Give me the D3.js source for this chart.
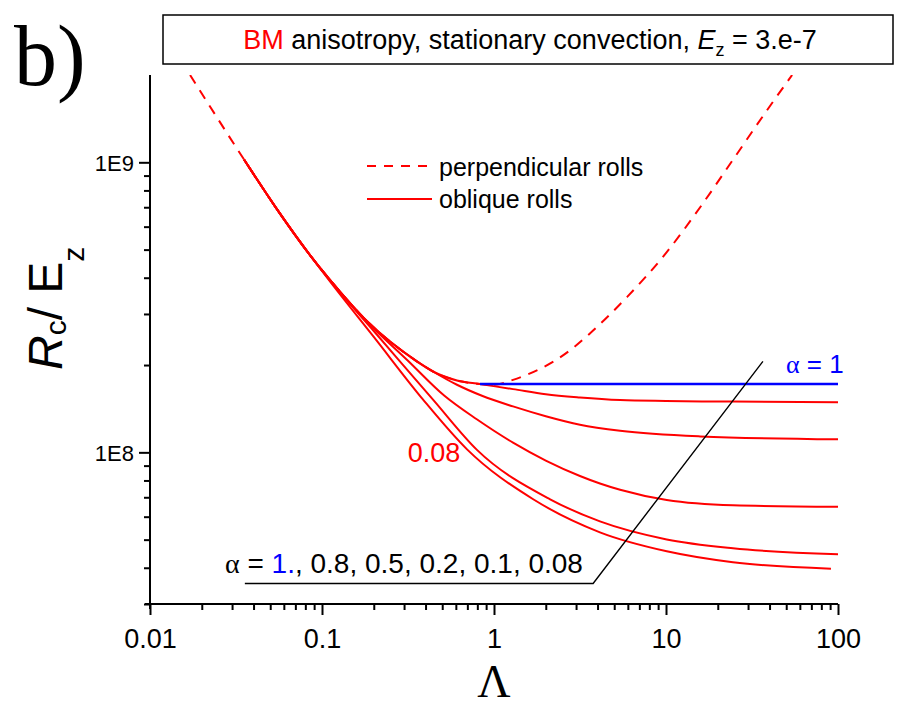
<!DOCTYPE html>
<html>
<head>
<meta charset="utf-8">
<script src="https://cdn.jsdelivr.net/npm/d3@7"></script>
<style>
  body { margin: 0; background: #fff; }
  svg { display: block; font-family: Arial, "Liberation Sans", sans-serif; }
</style>
</head>
<body>
<svg id="chart" width="909" height="706"></svg>
<script>
// Critical Rayleigh number R_c / E_z versus anisotropy parameter Λ

// perpendicular rolls (dashed)
const perpLambda = [0.0171, 0.0352, 0.0533, 0.0851, 0.111, 0.183, 0.356, 0.442, 0.609, 0.829, 1.01, 1.29, 1.85, 2.20, 2.88, 3.61, 5.93, 10.1, 15.8, 24.5, 38.6, 54.1];
const perpValue  = [2.0e9, 1.023e9, 7.05e8, 4.79e8, 3.94e8, 2.83e8, 2.06e8, 1.90e8, 1.77e8, 1.72e8, 1.71e8, 1.778e8, 1.94e8, 2.05e8, 2.29e8, 2.57e8, 3.43e8, 4.90e8, 7.0e8, 1.02e9, 1.51e9, 2.0e9];

// oblique rolls, alpha = 1 (blue)
const alpha1Lambda = [0.829, 100];
const alpha1Value  = [1.72e8, 1.72e8];

// oblique rolls, alpha = 0.8
const alpha08Lambda = [0.0352, 0.0533, 0.0851, 0.111, 0.183, 0.356, 0.442, 0.609, 0.829, 1.29, 2.0, 3.16, 5.41, 10, 24.5, 100];
const alpha08Value  = [1.023e9, 7.05e8, 4.79e8, 3.94e8, 2.83e8, 2.06e8, 1.90e8, 1.77e8, 1.72e8, 1.652e8, 1.585e8, 1.545e8, 1.514e8, 1.503e8, 1.496e8, 1.489e8];

// oblique rolls, alpha = 0.5
const alpha05Lambda = [0.0352, 0.0533, 0.0851, 0.111, 0.183, 0.356, 0.442, 0.609, 0.851, 1.29, 2.0, 3.16, 5.41, 15.8, 100];
const alpha05Value  = [1.023e9, 7.05e8, 4.79e8, 3.94e8, 2.83e8, 2.06e8, 1.90e8, 1.71e8, 1.567e8, 1.44e8, 1.332e8, 1.245e8, 1.186e8, 1.135e8, 1.109e8];

// oblique rolls, alpha = 0.2
const alpha02Lambda = [0.0352, 0.0533, 0.0851, 0.111, 0.183, 0.316, 0.513, 0.794, 1.29, 2.0, 3.16, 4.13, 5.41, 10.1, 24.5, 100];
const alpha02Value  = [1.023e9, 7.05e8, 4.79e8, 3.94e8, 2.82e8, 2.07e8, 1.57e8, 1.30e8, 1.08e8, 9.37e7, 8.29e7, 7.81e7, 7.43e7, 6.85e7, 6.57e7, 6.49e7];

// oblique rolls, alpha = 0.1
const alpha01Lambda = [0.0352, 0.0533, 0.0851, 0.111, 0.2, 0.442, 0.796, 2.12, 4.13, 10.1, 24.5, 100];
const alpha01Value  = [1.023e9, 7.05e8, 4.79e8, 3.92e8, 2.62e8, 1.52e8, 1.02e8, 6.89e7, 5.78e7, 5.01e7, 4.67e7, 4.45e7];

// oblique rolls, alpha = 0.08
const alpha008Lambda = [0.0352, 0.0533, 0.0851, 0.111, 0.2, 0.387, 0.697, 1.69, 4.13, 10.1, 24.5, 91];
const alpha008Value  = [1.023e9, 7.05e8, 4.79e8, 3.89e8, 2.50e8, 1.52e8, 1.024e8, 6.89e7, 5.30e7, 4.56e7, 4.18e7, 3.97e7];

// leader line for the alpha list
const guideLambda = [0.0356, 3.77, 36.6];
const guideValue  = [3.53e7, 3.53e7, 2.06e8];

// axes
const xDomain = [0.01, 100];
const yDomain = [3e7, 2e9];
const xMajorTicks = [0.01, 0.1, 1, 10, 100];
const xTickLabels = ["0.01", "0.1", "1", "10", "100"];
const yMajorTicks = [1e8, 1e9];
const yTickLabels = ["1E8", "1E9"];

const svg = d3.select("#chart");
const plotLeft = 150, plotRight = 838, plotTop = 75, plotBottom = 604;

const x = d3.scaleLog().domain(xDomain).range([plotLeft, plotRight]);
const y = d3.scaleLog().domain(yDomain).range([plotBottom, plotTop]);

const xMinor = [];
for (let d = 0.01; d < 100; d *= 10) for (let k = 2; k <= 9; k++) xMinor.push(+(d * k).toPrecision(3));
const yMinor = [];
[1e7, 1e8].forEach(d => { for (let k = 2; k <= 9; k++) { const v = d * k; if (v >= 3e7 && v < 2e9) yMinor.push(v); } });

svg.append("defs").append("clipPath").attr("id", "plotClip")
  .append("rect").attr("x", plotLeft).attr("y", plotTop)
  .attr("width", plotRight - plotLeft).attr("height", plotBottom - plotTop);

const line = d3.line().x(d => x(d[0])).y(d => y(d[1])).curve(d3.curveMonotoneX);
const pairs = (a, b) => a.map((v, i) => [v, b[i]]);

const plot = svg.append("g").attr("clip-path", "url(#plotClip)");

const oblique = [
  [alpha08Lambda, alpha08Value],
  [alpha05Lambda, alpha05Value],
  [alpha02Lambda, alpha02Value],
  [alpha01Lambda, alpha01Value],
  [alpha008Lambda, alpha008Value]
];
oblique.forEach(([l, v]) => {
  plot.append("path").datum(pairs(l, v)).attr("d", line)
    .attr("fill", "none").attr("stroke", "#ff0000").attr("stroke-width", 2);
});

plot.append("path").datum(pairs(perpLambda, perpValue)).attr("d", line)
  .attr("fill", "none").attr("stroke", "#ff0000").attr("stroke-width", 2)
  .attr("stroke-dasharray", "10,8");

plot.append("path").datum(pairs(alpha1Lambda, alpha1Value)).attr("d", line)
  .attr("fill", "none").attr("stroke", "#0000ff").attr("stroke-width", 2.4);

// leader line
svg.append("path").datum(pairs(guideLambda, guideValue))
  .attr("d", d3.line().x(d => x(d[0])).y(d => y(d[1])))
  .attr("fill", "none").attr("stroke", "#000").attr("stroke-width", 1.4);

// x axis
const xAxisG = svg.append("g").attr("transform", `translate(0,${plotBottom})`);
xAxisG.append("g").call(d3.axisBottom(x).tickValues(xMinor).tickSize(6).tickSizeOuter(0).tickFormat(""));
xAxisG.append("g").call(d3.axisBottom(x).tickValues(xMajorTicks).tickSize(11).tickSizeOuter(0)
  .tickFormat((d, i) => xTickLabels[i]));
xAxisG.selectAll(".domain").remove();
xAxisG.append("line").attr("x1", plotLeft - 5).attr("x2", plotRight).attr("stroke", "#000").attr("stroke-width", 2);
xAxisG.selectAll(".tick line").attr("stroke", "#000").attr("stroke-width", 2);
xAxisG.selectAll(".tick text").attr("font-size", 27).attr("font-family", "Arial, 'Liberation Sans', sans-serif")
  .attr("fill", "#000").attr("dy", null).attr("y", 44);

// y axis
const yAxisG = svg.append("g").attr("transform", `translate(${plotLeft},0)`);
yAxisG.append("g").call(d3.axisLeft(y).tickValues(yMinor).tickSize(6).tickSizeOuter(0).tickFormat(""));
yAxisG.append("g").call(d3.axisLeft(y).tickValues(yMajorTicks).tickSize(11).tickSizeOuter(0)
  .tickFormat((d, i) => yTickLabels[i]));
yAxisG.selectAll(".domain").remove();
yAxisG.append("line").attr("y1", plotTop).attr("y2", plotBottom + 5).attr("stroke", "#000").attr("stroke-width", 2);
yAxisG.selectAll(".tick line").attr("stroke", "#000").attr("stroke-width", 2);
yAxisG.selectAll(".tick text").attr("font-size", 22).attr("font-family", "Arial, 'Liberation Sans', sans-serif")
  .attr("fill", "#000").attr("x", -16).attr("dy", "0.36em");

// axis titles
svg.append("text").attr("x", x(1)).attr("y", 697).attr("text-anchor", "middle")
  .attr("font-family", "'Liberation Serif', 'Times New Roman', serif").attr("font-size", 46)
  .text("Λ");

const yTitle = svg.append("text").attr("transform", "translate(62,370) rotate(-90)")
  .attr("font-size", 48);
yTitle.append("tspan").attr("font-style", "italic").text("R");
yTitle.append("tspan").attr("font-size", 30).attr("dy", 4).text("c");
yTitle.append("tspan").attr("dy", -4).text("/ E");
yTitle.append("tspan").attr("font-size", 30).attr("dy", 22).text("z");

// panel tag
svg.append("text").attr("x", 14).attr("y", 85)
  .attr("font-family", "'Liberation Serif', 'Times New Roman', serif").attr("font-size", 86)
  .text("b)");

// title box
svg.append("rect").attr("x", 163).attr("y", 15).attr("width", 730).attr("height", 49)
  .attr("fill", "#fff").attr("stroke", "#000").attr("stroke-width", 1.5);
const title = svg.append("text").attr("x", 530).attr("y", 49).attr("text-anchor", "middle").attr("font-size", 27);
title.append("tspan").attr("fill", "#ff0000").text("BM");
title.append("tspan").text(" anisotropy, stationary convection, ");
title.append("tspan").attr("font-style", "italic").text("E");
title.append("tspan").attr("font-size", 18).attr("dy", 7).text("z");
title.append("tspan").attr("dy", -7).text(" = 3.e-7");

// legend
const lg = svg.append("g");
lg.append("line").attr("x1", 367).attr("x2", 432).attr("y1", 166).attr("y2", 166)
  .attr("stroke", "#ff0000").attr("stroke-width", 2).attr("stroke-dasharray", "9,8");
lg.append("line").attr("x1", 367).attr("x2", 432).attr("y1", 199).attr("y2", 199)
  .attr("stroke", "#ff0000").attr("stroke-width", 2);
lg.append("text").attr("x", 439).attr("y", 176).attr("font-size", 25).text("perpendicular rolls");
lg.append("text").attr("x", 439).attr("y", 208).attr("font-size", 25).text("oblique rolls");

// curve labels
const a1 = svg.append("text").attr("x", 786).attr("y", 373).attr("font-size", 26).attr("fill", "#0000ff");
a1.append("tspan").attr("font-family", "'Liberation Serif', 'Times New Roman', serif").text("α");
a1.append("tspan").text(" = 1");
svg.append("text").attr("x", 434).attr("y", 462).attr("text-anchor", "middle").attr("font-size", 27)
  .attr("fill", "#ff0000").text("0.08");
const al = svg.append("text").attr("x", 225).attr("y", 573).attr("font-size", 28).attr("fill", "#000");
al.append("tspan").attr("font-family", "'Liberation Serif', 'Times New Roman', serif").text("α");
al.append("tspan").text(" = ");
al.append("tspan").attr("fill", "#0000ff").text("1.");
al.append("tspan").text(", 0.8, 0.5, 0.2, 0.1, 0.08");
</script>
</body>
</html>
